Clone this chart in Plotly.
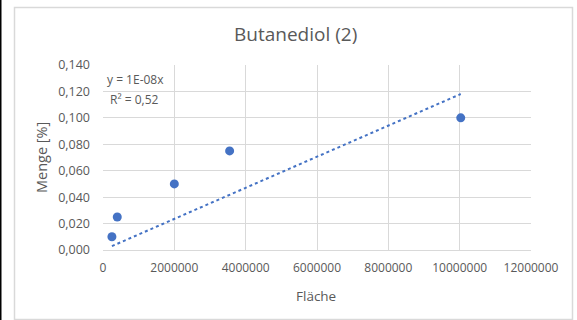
import numpy as np
import plotly.graph_objects as go

# Measured area (Fläche) vs. amount (Menge [%]) for Butanediol
flaeche = [250000, 400000, 2000000, 3550000, 10030000]
menge = [0.010, 0.025, 0.050, 0.075, 0.100]

x_ticks = [0, 2000000, 4000000, 6000000, 8000000, 10000000, 12000000]
y_ticks = [0.0, 0.02, 0.04, 0.06, 0.08, 0.10, 0.12, 0.14]

title = "Butanediol (2)"
x_title = "Fläche"
y_title = "Menge [%]"

blue = "#4472C4"
grey_text = "#595959"
grid = "#d9d9d9"
font_family = "Open Sans, Lato, sans-serif"

# Linear trendline forced through the origin (least squares)
xa = np.array(flaeche, dtype=float)
ya = np.array(menge, dtype=float)
slope = float((xa * ya).sum() / (xa * xa).sum())
trend_x = [xa.min(), xa.max()]
trend_y = [slope * v for v in trend_x]
eq_text = "y = 1E-08x"
r2_text = "R² = " + f"{0.52:.2f}".replace(".", ",")

fig = go.Figure()
fig.add_trace(go.Scatter(
    x=trend_x, y=trend_y, mode="lines",
    line=dict(color=blue, width=2, dash="dot"),
    hoverinfo="skip", showlegend=False,
))
fig.add_trace(go.Scatter(
    x=flaeche, y=menge, mode="markers",
    marker=dict(color=blue, size=9),
    showlegend=False,
))

W, H = 577, 320
L, R, T, B = 103, 46, 65, 70
pw, ph = W - L - R, H - T - B


def px_x(p):
    return (p - L) / pw


def px_y(p):
    return (H - B - p) / ph


shapes = [
    # black strip on the left edge
    dict(type="rect", xref="paper", yref="paper",
         x0=px_x(0), x1=px_x(1.5), y0=px_y(320), y1=px_y(0),
         fillcolor="black", line=dict(width=0), layer="above"),
    # chart frame
    dict(type="rect", xref="paper", yref="paper",
         x0=px_x(14.5), x1=px_x(572.5), y0=px_y(319.5), y1=px_y(7.5),
         line=dict(color=grid, width=1.5), fillcolor="rgba(0,0,0,0)"),
]

annotations = [
    dict(text=eq_text, xref="paper", yref="paper",
         x=px_x(105), y=px_y(80), xanchor="left", yanchor="middle",
         showarrow=False, font=dict(size=12, color=grey_text, family=font_family)),
    dict(text=r2_text, xref="paper", yref="paper",
         x=px_x(108), y=px_y(99), xanchor="left", yanchor="middle",
         showarrow=False, font=dict(size=12, color=grey_text, family=font_family)),
    dict(text=y_title, xref="paper", yref="paper",
         x=px_x(41), y=px_y(158), xanchor="center", yanchor="middle",
         textangle=-90, showarrow=False,
         font=dict(size=14.5, color=grey_text, family=font_family)),
    dict(text=x_title, xref="paper", yref="paper",
         x=px_x(316), y=px_y(296), xanchor="center", yanchor="middle",
         showarrow=False, font=dict(size=13.5, color=grey_text, family=font_family)),
    dict(text=title, xref="paper", yref="paper",
         x=px_x(295), y=px_y(34), xanchor="center", yanchor="middle",
         showarrow=False, font=dict(size=19, color=grey_text, family=font_family)),
]

fig.update_layout(
    width=W, height=H,
    margin=dict(l=L, r=R, t=T, b=B),
    paper_bgcolor="white", plot_bgcolor="white",
    separators=",.",
    font=dict(family=font_family, color=grey_text, size=12),
    shapes=shapes,
    annotations=annotations,
)
fig.update_xaxes(
    range=[0, 12000000], tickvals=x_ticks, tickformat="d",
    showgrid=True, gridcolor=grid, gridwidth=1.3,
    zeroline=False, showline=True, linecolor=grid, linewidth=1.3,
    ticks="", ticklabelstandoff=6,
    tickfont=dict(size=12, color=grey_text),
)
fig.update_yaxes(
    range=[0, 0.14], tickvals=y_ticks, tickformat=".3f",
    showgrid=True, gridcolor=grid, gridwidth=1.3,
    zeroline=False, showline=False,
    ticks="", ticklabelstandoff=12,
    tickfont=dict(size=12.5, color=grey_text),
)

fig.write_html("out.html")
